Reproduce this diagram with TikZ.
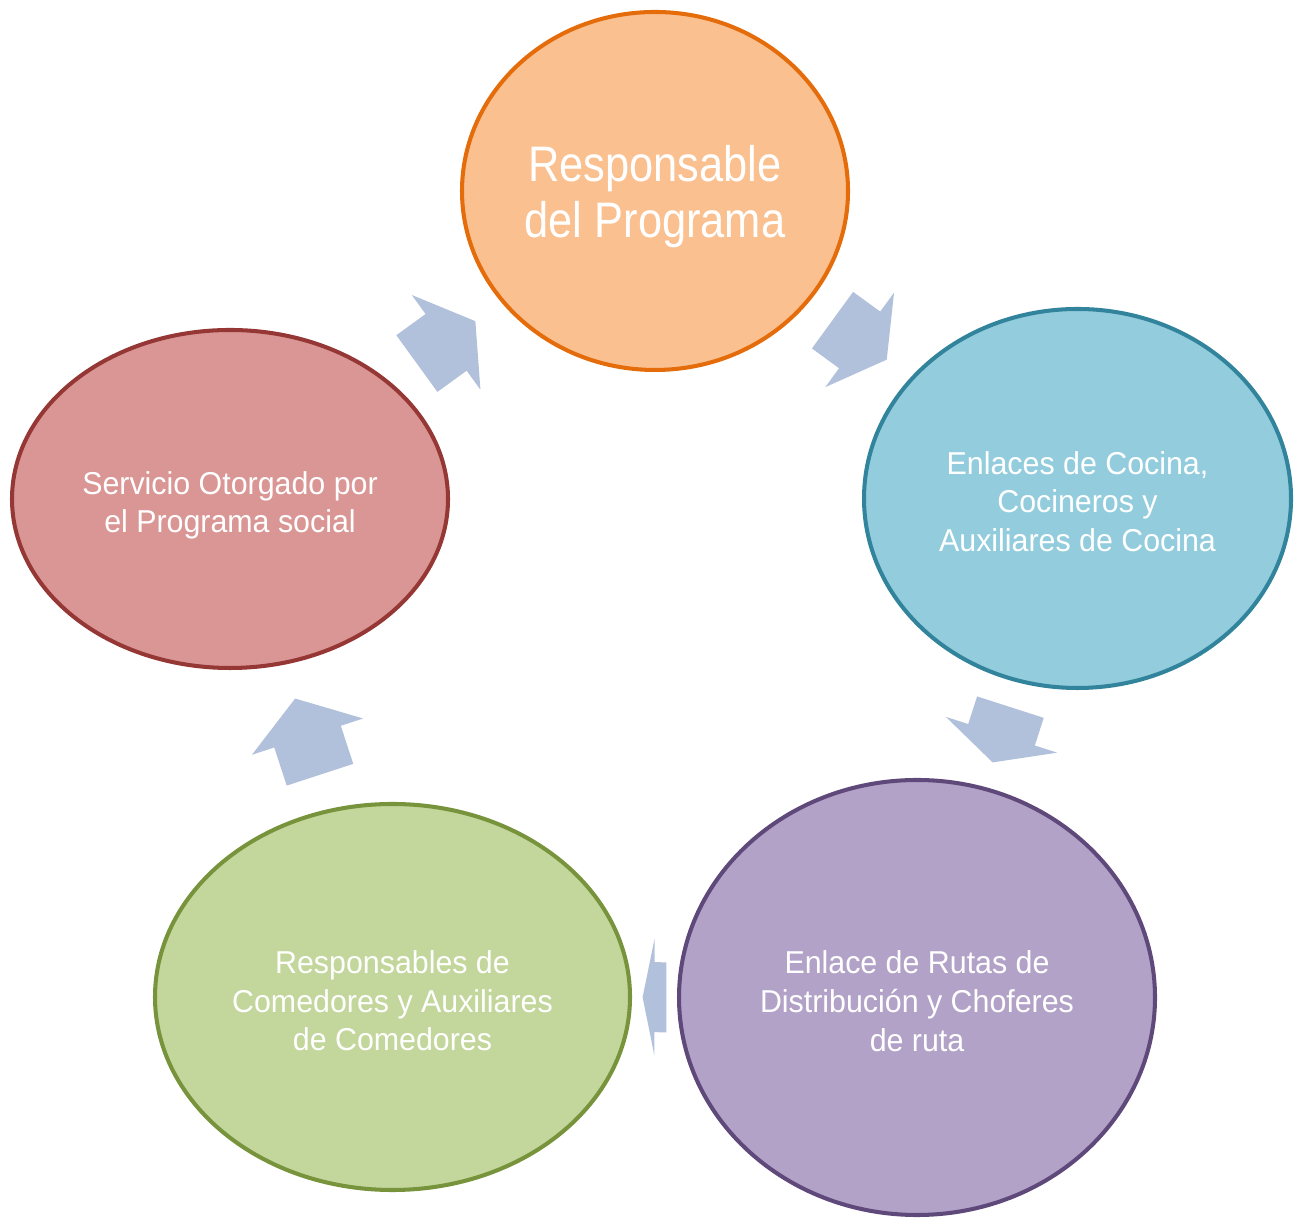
\documentclass[tikz,border=0pt]{standalone}
\usepackage{fontspec}
\setmainfont{Liberation Sans}
\newfontfamily\titlefont[FakeStretch=0.87]{Liberation Sans}
\newfontfamily\stagefont[FakeStretch=0.96]{Liberation Sans}
\usetikzlibrary{shapes.geometric,calc}

\definecolor{progline}{HTML}{E46C0A}  \definecolor{progfill}{HTML}{FAC090}
\definecolor{cocline}{HTML}{31849B}   \definecolor{cocfill}{HTML}{93CDDD}
\definecolor{rutline}{HTML}{5F497A}   \definecolor{rutfill}{HTML}{B2A2C7}
\definecolor{comline}{HTML}{77933C}   \definecolor{comfill}{HTML}{C3D69B}
\definecolor{servline}{HTML}{953735}  \definecolor{servfill}{HTML}{D99694}
\definecolor{arrowblue}{RGB}{178,193,219}

% centred lines, sitting a little low in the ellipse (extra room on top)
\newcommand{\stagetext}[2][3.8pt]{%
  \raisebox{0pt}[\dimexpr\height+#1\relax]{\begin{tabular}{@{}c@{}}#2\end{tabular}}}

% block arrow in the gap between two ellipses: tail, head base, tip
\newcommand{\cycarrow}[2]{%
  \path (#1) -- (#2) coordinate[pos=0.235] (aTail) coordinate[pos=0.5] (aMid)
        coordinate[pos=0.765] (aTip);
  \fill[arrowblue] ($(aTail)!0.35cm!90:(aTip)$) -- ($(aMid)!0.35cm!90:(aTip)$)
    -- ($(aMid)!0.585cm!90:(aTip)$) -- (aTip) -- ($(aMid)!0.585cm!-90:(aTip)$)
    -- ($(aMid)!0.35cm!-90:(aTip)$) -- ($(aTail)!0.35cm!-90:(aTip)$) -- cycle;
}

\begin{document}
\begin{tikzpicture}[line join=round,
    stage/.style={ellipse, draw, line width=1.15pt, inner sep=0pt,
      text=white, font=\stagefont\fontsize{9}{11}\selectfont}]
  \useasboundingbox (0,0) rectangle (12.97,12.19);

  \node[stage, draw=progline, fill=progfill, minimum width=3.86cm, minimum height=3.58cm,
        font=\titlefont\fontsize{14.2}{15.9}\selectfont] (prog) at (6.55,10.28)
        {\stagetext[4pt]{Responsable\\del Programa}};
  \node[stage, draw=cocline, fill=cocfill, minimum width=4.27cm, minimum height=3.79cm]
        (cocina) at (10.775,7.205) {\stagetext{Enlaces de Cocina,\\Cocineros y\\Auxiliares de Cocina}};
  \node[stage, draw=rutline, fill=rutfill, minimum width=4.76cm, minimum height=4.35cm]
        (rutas) at (9.17,2.215) {\stagetext[4.2pt]{Enlace de Rutas de\\Distribución y Choferes\\de ruta}};
  \node[stage, draw=comline, fill=comfill, minimum width=4.75cm, minimum height=3.86cm]
        (comedor) at (3.925,2.22) {\stagetext[4.2pt]{Responsables de\\Comedores y Auxiliares\\de Comedores}};
  \node[stage, draw=servline, fill=servfill, minimum width=4.36cm, minimum height=3.38cm]
        (servicio) at (2.30,7.20) {\stagetext{Servicio Otorgado por\\el Programa social}};

  % the cycle
  \cycarrow{prog}{cocina}
  \cycarrow{cocina}{rutas}
  \cycarrow{rutas}{comedor}
  \cycarrow{comedor}{servicio}
  \cycarrow{servicio}{prog}
\end{tikzpicture}
\end{document}
